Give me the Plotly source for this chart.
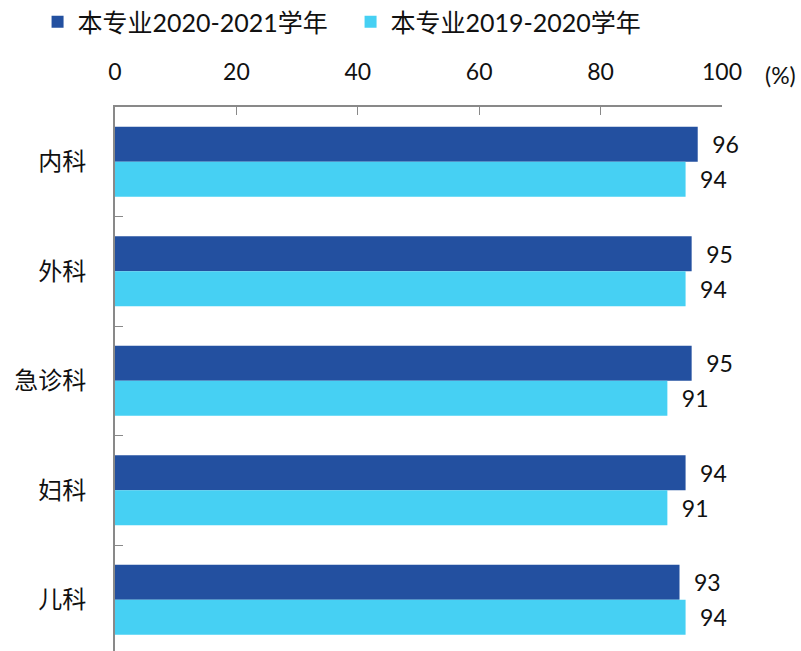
import plotly.graph_objects as go

categories = ["内科", "外科", "急诊科", "妇科", "儿科"]
series_names = ["本专业2020-2021学年", "本专业2019-2020学年"]
values_2021 = [96, 95, 95, 94, 93]
values_2020 = [94, 94, 91, 91, 94]
x_ticks = [0, 20, 40, 60, 80, 100]

colors = ["#2350A0", "#46D0F3"]
FONT = "Lato, Noto Sans CJK SC, sans-serif"

fig = go.Figure()
for name, vals, col in zip(series_names, [values_2021, values_2020], colors):
    fig.add_trace(go.Bar(
        y=categories, x=vals, name=name, orientation="h",
        marker=dict(color=col, line=dict(width=0)),
        text=[f"\u2002{v}" for v in vals], textposition="outside",
        textfont=dict(size=23, color="#111111", family=FONT),
        cliponaxis=False,
    ))

W, H = 801, 651
ml, mr, mt, mb = 114.5, 79, 107, 0
pw = W - ml - mr
ph = H - mt - mb
span = ph / 109.5

fig.update_layout(
    width=W, height=H,
    margin=dict(l=ml, r=mr, t=mt, b=mb, pad=0, autoexpand=False),
    paper_bgcolor="white", plot_bgcolor="white",
    barmode="group", bargap=0.36, bargroupgap=0,
    font=dict(family=FONT, size=23, color="#111111"),
    showlegend=True,
    legend=dict(orientation="h", x=(37 - ml) / pw, xanchor="left", y=1 + 85 / ph, yanchor="middle",
                font=dict(size=25, family=FONT), traceorder="normal",
                entrywidth=268, entrywidthmode="pixels", bgcolor="rgba(0,0,0,0)"),
    xaxis=dict(side="top", range=[0, 100], tickvals=x_ticks, ticks="inside", ticklen=8,
               tickcolor="#898989", showline=True, linecolor="#898989", linewidth=2,
               showgrid=False, zeroline=False, tickfont=dict(size=23), ticklabelstandoff=16,
               automargin=False),
    yaxis=dict(type="category", range=[span - 0.5, -0.5], ticks="inside", ticklen=8,
               tickson="boundaries", tickcolor="#898989", showline=True, linecolor="#898989",
               linewidth=2, showgrid=False, zeroline=False, tickfont=dict(size=24),
               ticklabelstandoff=22, automargin=False),
    annotations=[dict(text="(%)", xref="paper", yref="paper", x=1, y=1, xanchor="left",
                      yanchor="middle", xshift=41, yshift=32, showarrow=False,
                      font=dict(size=23, family=FONT))],
)

fig.write_html("out.html", config={"displayModeBar": False},
               post_script="document.body.style.margin='0';document.body.style.overflow='hidden';")
